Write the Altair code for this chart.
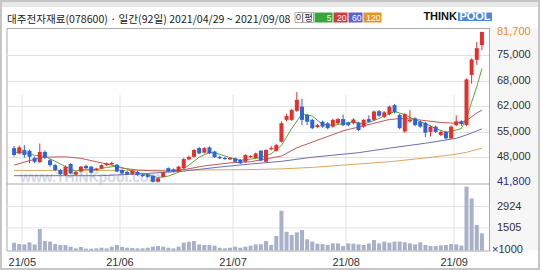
import altair as alt
import pandas as pd

# ---------------- data ----------------
opens = [50900, 49500, 50400, 50200, 48300, 47200, 49900, 47700, 46400, 45100,
         43800, 46700, 43900, 44700, 46200, 46000, 45100, 45500, 46400, 46600,
         46500, 45100, 44600, 44000, 44600, 43900, 43900, 43500, 42000, 43300,
         45600, 45300, 44700, 45600, 47900, 48600, 50900, 49700, 51100, 50000,
         48600, 48300, 47900, 48200, 47800, 47300, 48500, 48300, 50200, 47300,
         50600, 50200, 52600, 58400, 58400, 60800, 61900, 59700, 58400, 56500,
         57900, 57500, 56600, 57500, 58600, 57600, 57500, 57600, 56600, 58600,
         58400, 60700, 59200, 59900, 62300, 59700, 55300, 58000, 58800, 57900,
         57600, 55200, 56600, 54400, 55200, 53500, 57000, 58000, 57000, 70300,
         74300, 78200]
highs = [51500, 51600, 51700, 50500, 48700, 52100, 50300, 48000, 46700, 45400,
         46300, 46900, 44800, 46200, 46500, 46200, 45700, 46600, 47100, 47300,
         46700, 45300, 44800, 45100, 44800, 44100, 44100, 43700, 43100, 44600,
         45800, 45500, 46200, 48300, 48900, 50700, 51200, 51200, 51400, 50200,
         48900, 48600, 48500, 48400, 48000, 49300, 49000, 49700, 50400, 50600,
         51500, 52000, 58000, 60000, 61300, 65800, 64000, 60000, 58700, 57300,
         58200, 57800, 58700, 58900, 59800, 57900, 58800, 57900, 58700, 59600,
         60900, 61000, 60700, 62200, 62600, 60000, 60200, 61000, 59100, 58200,
         57900, 56900, 56900, 55500, 55500, 56900, 59600, 58300, 69400, 74700,
         79000, 81700]
lows = [48700, 49200, 48400, 46900, 46900, 46900, 48000, 46000, 44800, 43800,
        43500, 44000, 43600, 44500, 45400, 44200, 44900, 45300, 46200, 46400,
        44500, 44000, 43800, 43800, 43600, 43300, 43100, 41800, 41800, 43100,
        44500, 44500, 44500, 45400, 47700, 48400, 49300, 49500, 49300, 48300,
        48000, 47800, 47700, 47100, 46700, 47100, 48300, 48100, 47400, 47100,
        50300, 50000, 52400, 58000, 58100, 60500, 57000, 57000, 55900, 56200,
        56300, 55900, 56300, 57200, 56700, 56700, 57200, 55400, 56300, 57700,
        58100, 59200, 58900, 59600, 60100, 55900, 55000, 57700, 56700, 56300,
        53800, 54000, 54900, 54100, 53200, 53300, 56700, 56800, 56800, 68000,
        73000, 76900]
closes = [49100, 51100, 49100, 48600, 47300, 49900, 48400, 46400, 45100, 44000,
          46000, 44200, 44600, 46000, 45600, 44400, 45500, 46400, 46900, 47000,
          44700, 44200, 44000, 44900, 43800, 43500, 43300, 42000, 42900, 44400,
          44700, 44700, 46000, 48000, 48600, 50400, 49500, 50900, 49500, 48500,
          48200, 48000, 48300, 47300, 46900, 49100, 48800, 49500, 47600, 50400,
          50900, 51700, 57500, 59400, 61000, 63700, 58400, 57900, 56200, 57000,
          56600, 56200, 58400, 58600, 57000, 57000, 58500, 55700, 58400, 57900,
          60600, 59500, 60400, 61900, 60400, 56200, 59900, 58400, 57000, 56600,
          55000, 56600, 55200, 55200, 53500, 56600, 58000, 57300, 69100, 74400,
          77400, 81700]
volumes = [517, 430, 408, 541, 408, 1425, 629, 592, 428, 364,
           364, 255, 143, 235, 122, 122, 143, 184, 143, 255,
           364, 235, 184, 163, 143, 143, 184, 255, 296, 255,
           184, 143, 255, 517, 581, 629, 408, 364, 364, 321,
           184, 143, 184, 255, 184, 255, 321, 408, 408, 629,
           364, 961, 2642, 1248, 1027, 1205, 1359, 741, 592, 452,
           430, 364, 474, 474, 296, 474, 452, 408, 364, 464,
           696, 474, 592, 517, 592, 592, 541, 474, 408, 541,
           364, 296, 296, 342, 364, 430, 408, 321, 4240, 3460,
           1695, 1140]

ma5_idx = [0, 2, 4, 6, 8, 10, 12, 14, 16, 18, 20, 22, 24, 26, 28, 30, 32, 34, 36, 38,
           40, 42, 44, 46, 48, 50, 52, 54, 56, 58, 60, 62, 64, 66, 68, 70, 72, 74, 76,
           78, 80, 82, 84, 86, 87, 88, 89, 90, 91]
ma5_val = [49800, 49800, 49000, 48700, 47400, 46000, 44800, 45300, 45200, 45800,
           46100, 45400, 44300, 43900, 43100, 43500, 44500, 46400, 48500, 49800,
           49300, 48400, 47700, 48000, 48400, 49400, 51600, 56100, 60000, 59400,
           57200, 56900, 57400, 57900, 57300, 58200, 59400, 60600, 59800, 58400,
           57400, 56100, 55100, 55700, 56100, 58900, 63100, 67200, 72000]
ma20_idx = [0, 3, 6, 10, 13, 16, 19, 21, 24, 27, 30, 33, 37, 42, 46, 50, 52, 55, 58,
            61, 64, 67, 70, 73, 76, 80, 83, 86, 88, 90, 91]
ma20_val = [46400, 47600, 48500, 48600, 48200, 47300, 46400, 45600, 45100, 44900,
            44800, 45200, 46200, 47000, 47300, 48300, 48800, 51000, 52500, 54000,
            55500, 56500, 57500, 58500, 58800, 58200, 57700, 57500, 58200, 60200, 61000]
ma60_idx = [0, 10, 17, 26, 33, 40, 46, 52, 58, 67, 73, 80, 86, 88, 91]
ma60_val = [43600, 43600, 43600, 44200, 44800, 45900, 46700, 47400, 48500, 49700,
            50900, 52200, 53500, 54400, 56000]
ma120_idx = [0, 20, 33, 45, 52, 58, 67, 73, 80, 86, 88, 91]
ma120_val = [45000, 45000, 45100, 45200, 45400, 45800, 46700, 47300, 48300, 49300,
             49800, 50900]

month_first = [2, 21, 43, 65, 86]
month_labels = ["21/05", "21/06", "21/07", "21/08", "21/09"]
price_grid = [48558, 55262, 62073, 68777, 75588]
price_grid_labels = ["48,000", "55,000", "62,000", "68,000", "75,000"]
price_high, price_low = 81700, 41800
vol_grid = [1505, 2924]
vol_grid_labels = ["1505", "2924"]

title_text = "대주전자재료(078600) · 일간(92일) 2021/04/29 ~ 2021/09/08"
ma_names = ["5", "20", "60", "120"]

# ---------------- style ----------------
W, H = 483, 222.5
MAIN_H = 156
RED, BLUE = "#e3302b", "#2f63d6"
GRID = "#e2e2e2"
NUM_FONT = "Liberation Sans"
KR_FONT = "Noto Sans CJK KR"

n = len(closes)
candles = pd.DataFrame({"i": list(range(n)), "o": opens, "h": highs, "l": lows,
                        "c": closes, "v": volumes})

grid_pos = [m - 0.5 for m in month_first]
x_expr = " : ".join(f"datum.value == {g} ? '{t}'" for g, t in zip(grid_pos, month_labels)) + " : ''"
xs = alt.Scale(domain=[-0.5, n - 0.5], nice=False, zero=False)
x_axis = alt.Axis(values=grid_pos, labelExpr=x_expr, grid=True, gridColor=GRID,
                  domain=False, ticks=False, labelFont=NUM_FONT, labelFontSize=11,
                  labelColor="#333333", labelPadding=6, title=None)
X = alt.X("i:Q", scale=xs, axis=x_axis)

ps = alt.Scale(domain=[41400, 82740], range=[MAIN_H, 0], nice=False, zero=False)
p_axis = alt.Axis(values=price_grid, grid=True, gridColor=GRID, labels=False,
                  ticks=False, domain=False, title=None, orient="right")
vs = alt.Scale(domain=[0, 4420], range=[H, MAIN_H], nice=False, zero=False)

one = pd.DataFrame({"k": [0]})


def txt(s, x, y, **kw):
    return alt.Chart(one).mark_text(text=s, **kw).encode(x=alt.value(x), y=alt.value(y))


def box(x1, x2, y1, y2, **kw):
    return alt.Chart(one).mark_rect(**kw).encode(
        x=alt.value(x1), x2=alt.value(x2), y=alt.value(y1), y2=alt.value(y2))


updown = alt.condition("datum.c >= datum.o", alt.value(RED), alt.value(BLUE))

right_bg = box(483.5, 532, 0.5, 222, color="#f6f6f6")
watermark = txt("www.THINKpool.com", 13.5, 150, align="left", baseline="middle",
                font=NUM_FONT, fontSize=14, fontWeight="bold", color="#d3d8e6")


def ma_line(idx, val, color):
    df = pd.DataFrame({"i": idx, "p": val})
    return alt.Chart(df).mark_line(color=color, strokeWidth=1).encode(
        x=X, y=alt.Y("p:Q", scale=ps, axis=p_axis))


ma120 = ma_line(ma120_idx, ma120_val, "#d8a85e")
ma60 = ma_line(ma60_idx, ma60_val, "#6e6eb6")
ma20 = ma_line(ma20_idx, ma20_val, "#c05a58")
ma5 = ma_line(ma5_idx, ma5_val, "#5aa83c")

base = alt.Chart(candles)
wicks = base.mark_rule(strokeWidth=1).encode(
    x=X, y=alt.Y("l:Q", scale=ps, axis=p_axis), y2="h:Q", color=updown)
bodies = base.mark_bar(size=4).encode(
    x=X, y=alt.Y("o:Q", scale=ps, axis=p_axis), y2="c:Q", color=updown)

plab_df = pd.DataFrame({"p": price_grid, "t": price_grid_labels})
price_labels = alt.Chart(plab_df).mark_text(
    align="left", baseline="middle", font=NUM_FONT, fontSize=11, color="#333333"
).encode(x=alt.value(490.5), y=alt.Y("p:Q", scale=ps, axis=p_axis), text="t:N")
hl_df = pd.DataFrame({"p": [price_high, price_low],
                      "t": [f"{price_high:,}", f"{price_low:,}"],
                      "col": ["#e8901f", "#2e2e8e"]})
hl_labels = alt.Chart(hl_df).mark_text(
    align="left", baseline="middle", font=NUM_FONT, fontSize=11
).encode(x=alt.value(490.5), y=alt.Y("p:Q", scale=ps, axis=p_axis), text="t:N",
         color=alt.Color("col:N", scale=None))

separator = alt.Chart(one).mark_rule(color="#a9a9a9").encode(
    x=alt.value(0), x2=alt.value(W), y=alt.value(MAIN_H))
right_line = alt.Chart(one).mark_rule(color="#a9a9a9").encode(
    x=alt.value(W), y=alt.value(0), y2=alt.value(H))

# header
top_band = box(-6.5, 533.5, -28, -21, color="#e8e8e8")
outer = box(-5.5, 532.5, -27, 241, fillOpacity=0, stroke="#c6c6c6", strokeWidth=2)
title = txt(title_text, 0.5, -8.5, align="left", baseline="middle", font=KR_FONT,
            fontSize=10.6, color="#222222")
leg_box = box(288.5, 307, -15.5, -5.5, color="#ffffff", stroke="#aaaaaa", strokeWidth=1)
leg_txt = txt("이평", 297.75, -10.5, align="center", baseline="middle", font=KR_FONT,
              fontSize=9.5, color="#333333")
leg_cols = ["#3aa63a", "#d23a3a", "#5a62d2", "#e8951f"]
leg_x = [(308, 326), (327, 341), (342, 356), (357, 375)]
leg_layers = []
for (a, b), col, name in zip(leg_x, leg_cols, ma_names):
    leg_layers.append(box(a, b, -15.5, -5.5, color=col))
    leg_layers.append(txt(name, b - 1, -10.5, align="right", baseline="middle",
                          font=NUM_FONT, fontSize=8.5, color="#ffffff"))
think = txt("THINK", 450.5, -11, align="right", baseline="middle", font=NUM_FONT,
            fontSize=11, fontWeight="bold", color="#111111")
pool_box = box(451.5, 485.5, -15.5, -7, color="#4c88dc")
pool = txt("POOL", 468.5, -11, align="center", baseline="middle", font=NUM_FONT,
           fontSize=11, fontWeight="bold", color="#ffffff")

price_group = alt.layer(
    right_bg, watermark, ma120, ma60, ma20, ma5, wicks, bodies,
    price_labels, hl_labels, separator, right_line,
    top_band, outer, title, leg_box, leg_txt, *leg_layers, think, pool_box, pool,
)

# volume panel
vg_df = pd.DataFrame({"v": vol_grid, "t": vol_grid_labels})
vol_grid_rules = alt.Chart(vg_df).mark_rule(color=GRID).encode(
    x=alt.value(0), x2=alt.value(W), y=alt.Y("v:Q", scale=vs, axis=None))
vol_bars = base.mark_bar(size=4, color="#a8b1c7").encode(
    x=X, y=alt.Y("v:Q", scale=vs, axis=None))
vol_labels = alt.Chart(vg_df).mark_text(
    align="left", baseline="middle", font=NUM_FONT, fontSize=11, color="#333333"
).encode(x=alt.value(490.5), y=alt.Y("v:Q", scale=vs, axis=None), text="t:N")
unit = txt("×1000", 485.5, 221.5, align="left", baseline="middle", font=NUM_FONT,
           fontSize=11, color="#333333")

vol_group = alt.layer(vol_grid_rules, vol_bars, vol_labels, unit)

chart = alt.layer(price_group, vol_group).resolve_scale(y="independent").properties(
    width=W, height=H,
    autosize=alt.AutoSizeParams(type="none"),
    padding={"left": 6.5, "top": 28, "right": 50.5, "bottom": 19.5},
    background="#ffffff",
).configure_view(stroke="#a9a9a9", strokeWidth=1)

chart.save("out.html", embed_options={"renderer": "svg", "actions": False})
